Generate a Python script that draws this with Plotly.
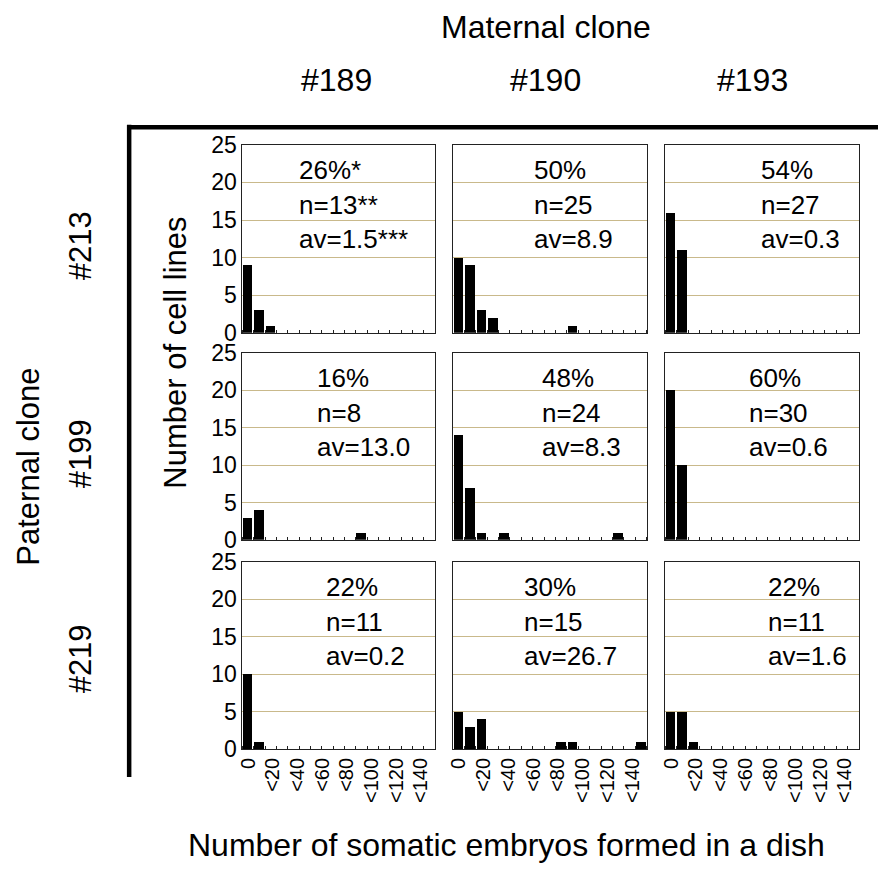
import plotly.graph_objects as go

# ---------------- data ----------------
bin_labels = ["0", "<10", "<20", "<30", "<40", "<50", "<60", "<70", "<80",
              "<90", "<100", "<110", "<120", "<130", "<140", "<150", "<160"]
shown_tick_labels = ["0", "<20", "<40", "<60", "<80", "<100", "<120", "<140"]

maternal = ["#189", "#190", "#193"]
paternal = ["#213", "#199", "#219"]

# counts per bin (rows = paternal, cols = maternal)
c_213_189 = [9, 3, 1, 0, 0, 0, 0, 0, 0, 0, 0, 0, 0, 0, 0, 0, 0]
c_213_190 = [10, 9, 3, 2, 0, 0, 0, 0, 0, 0, 1, 0, 0, 0, 0, 0, 0]
c_213_193 = [16, 11, 0, 0, 0, 0, 0, 0, 0, 0, 0, 0, 0, 0, 0, 0, 0]
c_199_189 = [3, 4, 0, 0, 0, 0, 0, 0, 0, 0, 1, 0, 0, 0, 0, 0, 0]
c_199_190 = [14, 7, 1, 0, 1, 0, 0, 0, 0, 0, 0, 0, 0, 0, 1, 0, 0]
c_199_193 = [20, 10, 0, 0, 0, 0, 0, 0, 0, 0, 0, 0, 0, 0, 0, 0, 0]
c_219_189 = [10, 1, 0, 0, 0, 0, 0, 0, 0, 0, 0, 0, 0, 0, 0, 0, 0]
c_219_190 = [5, 3, 4, 0, 0, 0, 0, 0, 0, 1, 1, 0, 0, 0, 0, 0, 1]
c_219_193 = [5, 5, 1, 0, 0, 0, 0, 0, 0, 0, 0, 0, 0, 0, 0, 0, 0]

counts = [[c_213_189, c_213_190, c_213_193],
          [c_199_189, c_199_190, c_199_193],
          [c_219_189, c_219_190, c_219_193]]

pct_text = [["26%*", "50%", "54%"],
            ["16%", "48%", "60%"],
            ["22%", "30%", "22%"]]
n_text = [["n=13**", "n=25", "n=27"],
          ["n=8", "n=24", "n=30"],
          ["n=11", "n=15", "n=11"]]
av_text = [["av=1.5***", "av=8.9", "av=0.3"],
           ["av=13.0", "av=8.3", "av=0.6"],
           ["av=0.2", "av=26.7", "av=1.6"]]

y_ticks = [0, 5, 10, 15, 20, 25]

# ---------------- layout geometry (target pixels) ----------------
W, H = 878, 870
# the photographed page is compressed vertically: out = A * page + B
A_Y, B_Y = 0.97, 12.2
col_px = [(240, 434), (452, 647), (666, 861)]
row_px = [(144, 332), (352, 539), (561, 748)]
text_left_px = [[295, 532, 760], [313, 540, 748], [322, 522, 767]]
text_offsets = [25, 60, 94]
label_step = 2.18   # spacing of the printed x labels, in bins

FONT = "Arial, Liberation Sans, sans-serif"
GRID = "#c9b98b"

def px(x):
    return (x - 2) / W

def py(y):
    return 1 - ((y - B_Y) / A_Y) / H

fig = go.Figure()
xs = list(range(len(bin_labels)))
tickvals = [i * label_step for i in range(len(shown_tick_labels))]

annotations = []
k = 0
for r in range(3):
    for c in range(3):
        k += 1
        sfx = "" if k == 1 else str(k)
        fig.add_trace(go.Bar(
            x=xs, y=counts[r][c], width=0.84,
            marker=dict(color="black", line=dict(width=0)),
            xaxis="x" + sfx, yaxis="y" + sfx, showlegend=False,
            hoverinfo="skip"))
        x0, x1 = col_px[c]
        y0, y1 = row_px[r]
        xa = dict(domain=[px(x0), px(x1)], range=[-0.5, len(bin_labels) - 0.5],
                  anchor="y" + sfx, showgrid=False, zeroline=False,
                  showline=True, linecolor="#222", linewidth=1, mirror=True,
                  tickmode="array", tickvals=tickvals,
                  ticktext=shown_tick_labels,
                  showticklabels=(r == 2), tickangle=-90,
                  ticks="",
                  minor=dict(ticks="inside", ticklen=3, tickcolor="#222",
                             tick0=-0.5, dtick=1),
                  tickfont=dict(family=FONT, size=20, color="black"))
        ya = dict(domain=[py(y1), py(y0)], range=[0, 25], anchor="x" + sfx,
                  showgrid=True, gridcolor=GRID, gridwidth=1, zeroline=False,
                  showline=True, linecolor="#222", linewidth=1, mirror=True,
                  tickmode="array", tickvals=y_ticks,
                  showticklabels=(c == 0), ticks="",
                  tickfont=dict(family=FONT, size=23, color="black"))
        fig.layout["xaxis" + sfx] = xa
        fig.layout["yaxis" + sfx] = ya
        for line, off in zip([pct_text[r][c], n_text[r][c], av_text[r][c]], text_offsets):
            annotations.append(dict(
                text=line, xref="paper", yref="paper",
                x=px(text_left_px[r][c]), y=py(y0 + off),
                xanchor="left", yanchor="middle", showarrow=False,
                font=dict(family=FONT, size=26, color="black")))

# headers
annotations.append(dict(text="Maternal clone", xref="paper", yref="paper",
                        x=px(546), y=py(26), xanchor="center", yanchor="middle",
                        showarrow=False, font=dict(family=FONT, size=32, color="black")))
for lbl, cx in zip(maternal, [335, 545, 754]):
    annotations.append(dict(text=lbl, xref="paper", yref="paper",
                            x=px(cx), y=py(79), xanchor="center", yanchor="middle",
                            showarrow=False, font=dict(family=FONT, size=32, color="black")))
annotations.append(dict(text="Paternal clone", xref="paper", yref="paper",
                        x=px(25), y=py(466), xanchor="center", yanchor="middle",
                        textangle=-90, showarrow=False,
                        font=dict(family=FONT, size=31, color="black")))
for lbl, cy in zip(paternal, [245, 453, 658]):
    annotations.append(dict(text=lbl, xref="paper", yref="paper",
                            x=px(77), y=py(cy), xanchor="center", yanchor="middle",
                            textangle=-90, showarrow=False,
                            font=dict(family=FONT, size=31, color="black")))
annotations.append(dict(text="Number of cell lines", xref="paper", yref="paper",
                        x=px(173), y=py(352), xanchor="center", yanchor="middle",
                        textangle=-90, showarrow=False,
                        font=dict(family=FONT, size=31, color="black")))
annotations.append(dict(text="Number of somatic embryos formed in a dish",
                        xref="paper", yref="paper",
                        x=px(506), y=py(844), xanchor="center", yanchor="middle",
                        showarrow=False, font=dict(family=FONT, size=32, color="black")))

shapes = [
    dict(type="line", xref="paper", yref="paper",
         x0=px(126), x1=px(126), y0=py(124), y1=py(776),
         line=dict(color="black", width=4.5)),
    dict(type="line", xref="paper", yref="paper",
         x0=px(124), x1=px(882), y0=py(126.5), y1=py(126.5),
         line=dict(color="black", width=4.5)),
]

fig.update_layout(width=W, height=H, margin=dict(l=0, r=0, t=0, b=0),
                  paper_bgcolor="white", plot_bgcolor="white",
                  annotations=annotations, shapes=shapes, bargap=0,
                  font=dict(family=FONT, color="black"))

fig.write_html("out.html", config={"displayModeBar": False},
               post_script="document.body.style.margin='0';document.body.style.padding='0';")
